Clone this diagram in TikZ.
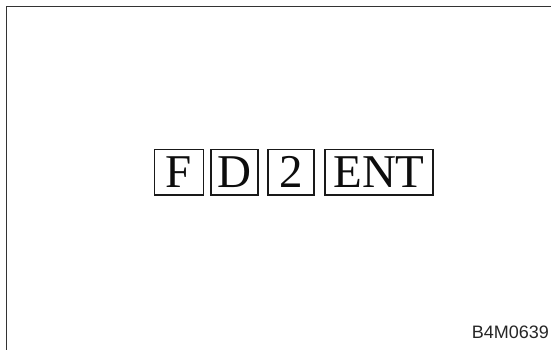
\documentclass[tikz,border=0pt]{standalone}
\usepackage{fontspec}
\setmainfont{Liberation Serif}
\newfontfamily\labelfont{Liberation Sans}
\begin{document}
\begin{tikzpicture}[x=1pt,y=-1pt,
  keybox/.style={draw=black!90, line width=1.1pt, inner sep=0pt, minimum height=45.5pt,
    font=\fontsize{47}{47}\selectfont, text=black!95, anchor=center},
  framestyle/.style={draw=black!80, line width=1.8pt},
  codelabel/.style={font=\labelfont\fontsize{18}{18}\selectfont, text=black!85, anchor=base east, inner sep=0pt}]
\useasboundingbox (0,0) rectangle (551,350);
\draw[framestyle] (551,6.5) -- (6.5,6.5) -- (6.5,350);
\node[keybox, minimum width=48.5pt] (f) at (178.8,172.2) {F};
\node[keybox, minimum width=47pt] (d) at (234.5,172.2) {D};
\node[keybox, minimum width=46pt] (two) at (291,172.2) {2};
\node[keybox, minimum width=108pt] (ent) at (379,172.2) {ENT};
\node[codelabel] (code) at (549,338) {B4M0639};
\end{tikzpicture}
\end{document}
